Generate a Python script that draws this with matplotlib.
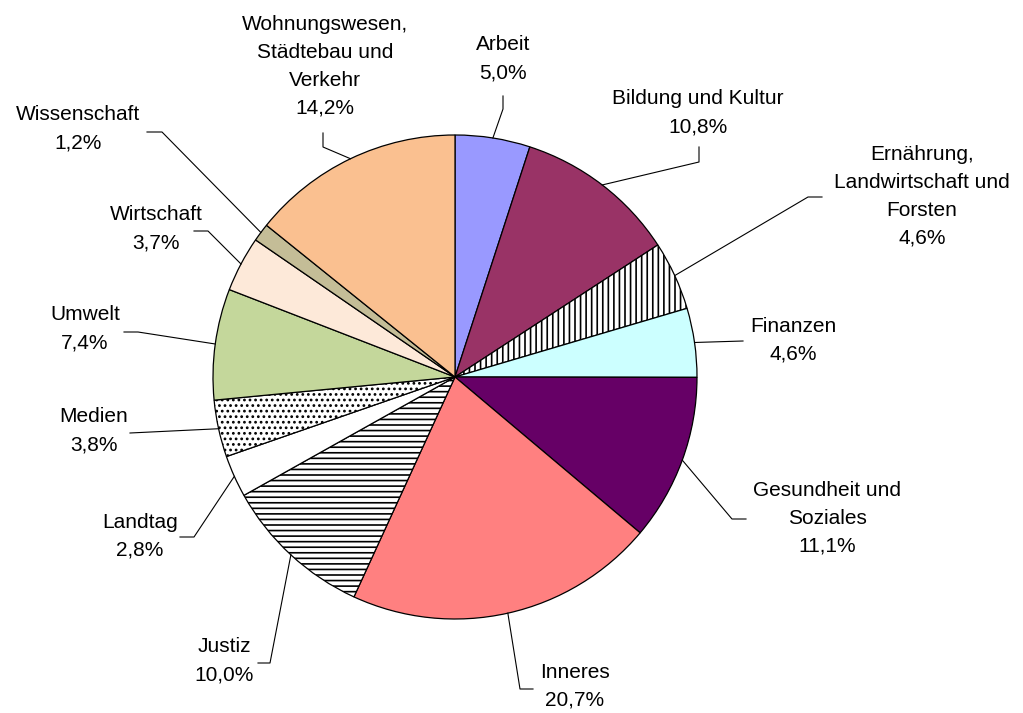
import matplotlib.pyplot as plt
import numpy as np

plt.rcParams['font.family'] = ['Liberation Sans', 'DejaVu Sans']
plt.rcParams['hatch.linewidth'] = 1.2

# Anteile der Ressorts (in %)
categories = ['Arbeit', 'Bildung und Kultur', 'Ernährung,\nLandwirtschaft und\nForsten',
              'Finanzen', 'Gesundheit und\nSoziales', 'Inneres', 'Justiz', 'Landtag',
              'Medien', 'Umwelt', 'Wirtschaft', 'Wissenschaft',
              'Wohnungswesen,\nStädtebau und\nVerkehr']
shares = [5.0, 10.8, 4.6, 4.6, 11.1, 20.7, 10.0, 2.8, 3.8, 7.4, 3.7, 1.2, 14.2]

colors = ['#9999FF', '#993366', '#FFFFFF', '#CCFFFF', '#660066', '#FF8080', '#FFFFFF',
          '#FFFFFF', '#FFFFFF', '#C4D79B', '#FDE9D9', '#C4BD97', '#FAC090']
hatches = [None, None, '|||', None, None, None, '---', None, '...', None, None, None, None]

# label layout in pixels (x, y from top)
label_pos = [(503, 59), (698, 113), (922, 196), (793, 340), (827, 518), (575, 686),
             (224, 661), (140, 536), (94, 431), (85, 329), (156, 229), (78, 129), (325, 66)]
bends = [[(503, 109), (503, 96)], [(699, 162), (699, 147)], [(808, 197), (822, 197)],
         [(743, 341)], [(732, 519), (746, 519)], [(520, 689), (533, 689)],
         [(270, 663), (258, 663)], [(194, 537), (180, 537)], [(130, 433)],
         [(138, 332), (124, 332)], [(208, 231), (194, 231)], [(162, 132), (147, 132)],
         [(323, 147), (323, 133)]]

W, H = 1023, 713
fig = plt.figure(figsize=(10.23, 7.13), dpi=100)
ax = fig.add_axes([0, 0, 1, 1])

cx, cy, r = 455, H - 377, 242
wedges, _ = ax.pie(shares, colors=colors, startangle=90, counterclock=False,
                   center=(cx, cy), radius=r,
                   wedgeprops=dict(edgecolor='black', linewidth=0.9))
for w, h in zip(wedges, hatches):
    if h:
        w.set_hatch(h)

ax.set_xlim(0, W)
ax.set_ylim(0, H)
ax.set_aspect('equal')
ax.axis('off')

for w, name, val, (tx, ty), pts in zip(wedges, categories, shares, label_pos, bends):
    ang = np.deg2rad((w.theta1 + w.theta2) / 2)
    x0, y0 = cx + r * np.cos(ang), cy + r * np.sin(ang)
    xs = [x0] + [p[0] for p in pts]
    ys = [y0] + [H - p[1] for p in pts]
    ax.plot(xs, ys, color='black', linewidth=0.8)
    txt = name + '\n' + f'{val:.1f}%'.replace('.', ',')
    ax.text(tx, H - ty, txt, ha='center', va='center', multialignment='center',
            fontsize=15, linespacing=1.6, color='black')

fig.savefig('out.png', dpi=100)
